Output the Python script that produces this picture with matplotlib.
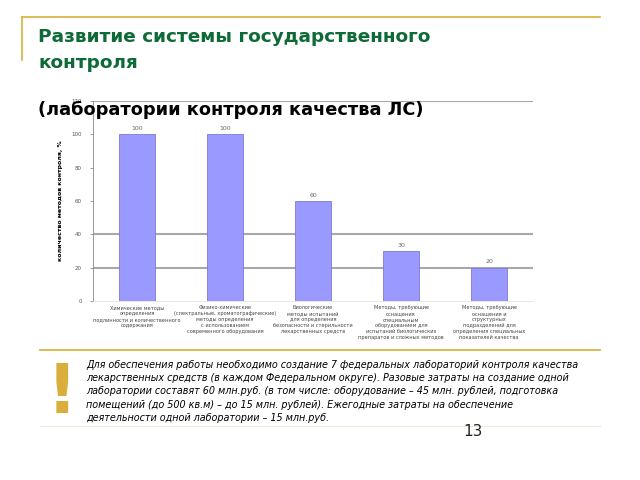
import matplotlib.pyplot as plt
import numpy as np
from matplotlib.lines import Line2D

# Chart data
categories = [
    "Химические методы\nопределения\nподлинности и количественного\nсодержания",
    "Физико-химические\n(спектральные, хроматографические)\nметоды определения\nс использованием\nсовременного оборудования",
    "Биологические\nметоды испытаний\nдля определения\nбезопасности и стерильности\nлекарственных средств",
    "Методы, требующие\nоснащения\nспециальным\nоборудованием для\nиспытаний биологических\nпрепаратов и сложных методов",
    "Методы, требующие\nоснащения и\nструктурных\nподразделений для\nопределения специальных\nпоказателей качества",
]
values = [100, 100, 60, 30, 20]
yticks = [0, 20, 40, 60, 80, 100, 120]
grid_values = [20, 40, 120]

title = "Развитие системы государственного\nконтроля"
subtitle = "(лаборатории контроля качества ЛС)"
note = ("Для обеспечения работы необходимо создание 7 федеральных лабораторий контроля качества\n"
        "лекарственных средств (в каждом Федеральном округе). Разовые затраты на создание одной\n"
        "лаборатории составят 60 млн.руб. (в том числе: оборудование – 45 млн. рублей, подготовка\n"
        "помещений (до 500 кв.м) – до 15 млн. рублей). Ежегодные затраты на обеспечение\n"
        "деятельности одной лаборатории – 15 млн.руб.")
page_num = "13"

gold = "#D9AE3A"
green = "#0E6B38"

fig = plt.figure(figsize=(6.4, 4.8), dpi=100)

# decorative slide lines
fig.add_artist(Line2D([22 / 640, 600 / 640], [1 - 17 / 480, 1 - 17 / 480], color=gold, lw=1.2))
fig.add_artist(Line2D([22 / 640, 22 / 640], [1 - 17 / 480, 1 - 60 / 480], color=gold, lw=1.2))
fig.add_artist(Line2D([40 / 640, 600 / 640], [1 - 350 / 480, 1 - 350 / 480], color=gold, lw=1.2))
fig.add_artist(Line2D([40 / 640, 600 / 640], [1 - 426 / 480, 1 - 426 / 480], color="#f0ead8", lw=0.8))

# bar chart
ax = fig.add_axes([93 / 640, 1 - 301 / 480, 440 / 640, 200 / 480])
x = np.arange(len(values))
bars = ax.bar(x, values, width=0.4, color="#9999FF", edgecolor="#7a7ad6", linewidth=0.6, zorder=3)
for v in grid_values:
    ax.axhline(v, color="#a8a8a8", lw=1.5, zorder=1)
for rect, v in zip(bars, values):
    ax.text(rect.get_x() + rect.get_width() / 2, v + 2, str(v), ha="center", va="bottom",
            fontsize=4.5, color="#666666")

ax.set_xlim(-0.5, len(values) - 0.5)
ax.set_ylim(0, 120)
ax.set_yticks(yticks)
ax.set_yticklabels([str(t) for t in yticks], fontsize=4, color="#555555")
ax.set_xticks(x)
ax.set_xticklabels(categories, fontsize=3.6, color="#444444", linespacing=1.25)
ax.tick_params(axis="y", length=2, width=0.5, color="#777777", pad=6)
ax.tick_params(axis="x", length=0, pad=3)
for s in ["top", "right"]:
    ax.spines[s].set_visible(False)
ax.spines["left"].set_color("#888888")
ax.spines["left"].set_linewidth(0.6)
ax.spines["bottom"].set_color("#dddddd")
ax.spines["bottom"].set_linewidth(0.5)
ax.set_ylabel("количество методов контроля, %", fontsize=4.5, fontweight="bold", labelpad=6)

# slide texts
fig.text(38 / 640, 1 - 28 / 480, title, fontsize=13.3, fontweight="bold", color=green,
         va="top", ha="left", linespacing=1.55)
fig.text(38 / 640, 1 - 110 / 480, subtitle, fontsize=12.8, fontweight="bold", color="black",
         va="center", ha="left", zorder=10)
fig.text(62 / 640, 1 - 394 / 480, "!", fontsize=48, fontweight="bold", color=gold,
         va="center", ha="center")
fig.text(86 / 640, 1 - 360 / 480, note, fontsize=6.9, style="italic", color="black",
         va="top", ha="left", linespacing=1.4)
fig.text(473 / 640, 1 - 432 / 480, page_num, fontsize=11, color="#222222", va="center", ha="center")

fig.savefig("out.png", dpi=100)
